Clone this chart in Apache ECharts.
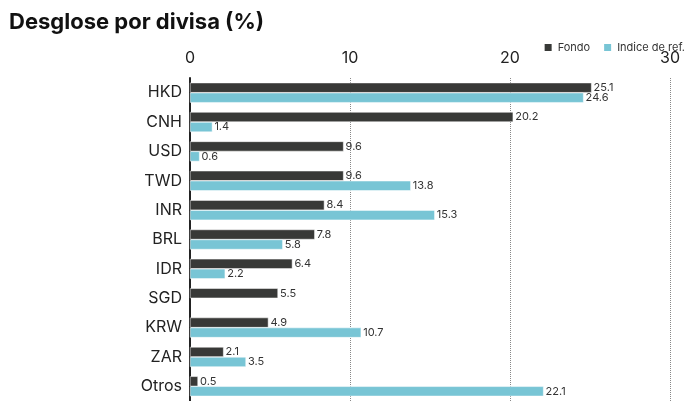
<!DOCTYPE html>
<html><head><meta charset="utf-8">
<script src="https://cdn.jsdelivr.net/npm/echarts@6/dist/echarts.min.js"></script>
<style>html,body{margin:0;padding:0;background:#fff}#c{width:692px;height:401px}</style>
</head><body><div id="c"></div>
<script>
const categories = ['HKD','CNH','USD','TWD','INR','BRL','IDR','SGD','KRW','ZAR','Otros'];
const fondo = [25.1,20.2,9.6,9.6,8.4,7.8,6.4,5.5,4.9,2.1,0.5];
const indice = [24.6,1.4,0.6,13.8,15.3,5.8,2.2,null,10.7,3.5,22.1];
const xTicks = [0,10,20,30];

const chart = echarts.init(document.getElementById('c'));
const font = 'Inter, "Liberation Sans", Arial, sans-serif';
const lbl = {show:true, position:'right', distance:2, fontSize:11, color:'#333', fontFamily:font};
chart.setOption({
  animation:false,
  title:{text:'Desglose por divisa (%)', left:4, top:6,
    textStyle:{fontSize:22, fontWeight:'bold', color:'#111', fontFamily:font}},
  legend:{right:2, top:37, itemWidth:9, itemHeight:9, itemGap:12, icon:'rect',
    textStyle:{fontSize:11, color:'#333', fontFamily:font},
    data:['Fondo','Indice de ref.']},
  grid:{left:190, right:22, top:78, bottom:-5},
  xAxis:{type:'value', position:'top', min:xTicks[0], max:xTicks[xTicks.length-1], interval:10,
    axisLine:{show:false}, axisTick:{show:false},
    axisLabel:{fontSize:16, color:'#222', margin:12, fontFamily:font},
    splitLine:{show:true, lineStyle:{type:'dotted', color:'#888', width:1}}},
  yAxis:{type:'category', data:categories, inverse:true,
    axisLine:{show:true, lineStyle:{color:'#222', width:2}}, axisTick:{show:false},
    axisLabel:{fontSize:16, color:'#222', margin:8, fontFamily:font}},
  series:[
    {name:'Fondo', type:'bar', data:fondo, barWidth:10, barGap:'0%',
     itemStyle:{color:'#383937', borderColor:'#fff', borderWidth:0.5}, label:lbl},
    {name:'Indice de ref.', type:'bar', data:indice, barWidth:10,
     itemStyle:{color:'#78c5d5', borderColor:'#fff', borderWidth:0.5}, label:lbl}
  ]
});
</script></body></html>
